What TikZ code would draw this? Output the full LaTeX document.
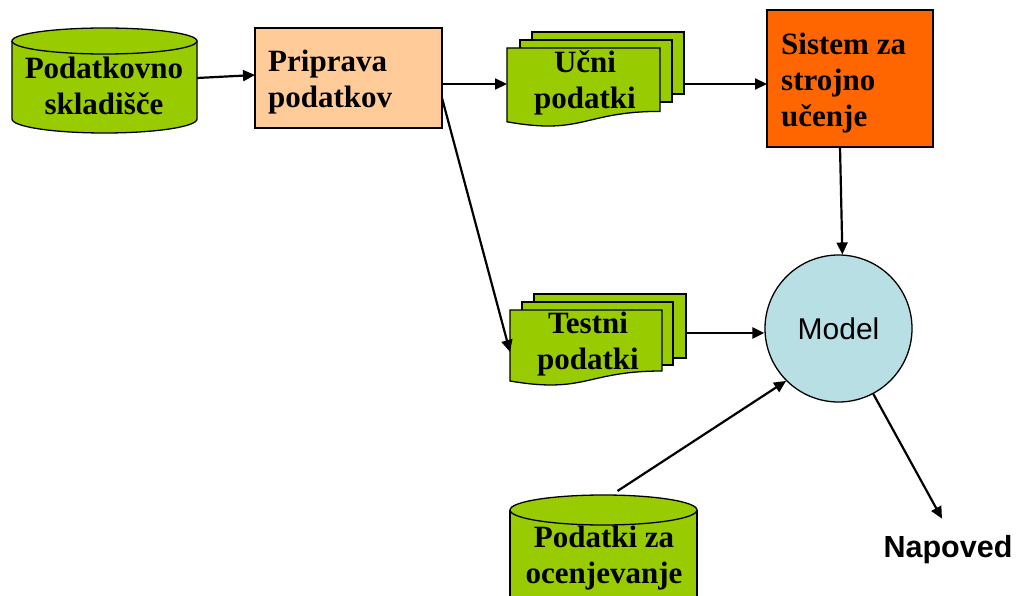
\documentclass[tikz,border=0pt]{standalone}
\usepackage{fontspec}
\setmainfont{Liberation Serif}
\setsansfont{Liberation Sans}
\usetikzlibrary{arrows.meta,calc}
\definecolor{dgreen}{HTML}{99CC00}
\definecolor{peach}{HTML}{FFCC99}
\definecolor{orng}{HTML}{FF6600}
\definecolor{mblue}{HTML}{B8DFE4}
\begin{document}
\begin{tikzpicture}[x=1pt,y=-1pt,
  arr/.style={line width=2.2pt,-{Triangle[length=12pt,width=11pt]}},
  outl/.style={line width=1.3pt},
  shp/.style={draw=none,inner sep=0,outer sep=0},
  rbox/.style={draw,outl,inner sep=0,outer sep=0},
  lbl/.style={font=\bfseries\fontsize{31}{36}\selectfont,inner sep=0,anchor=base,align=center},
  lbll/.style={lbl,align=left,anchor=base west},
  ]
\useasboundingbox (0,0) rectangle (1016,596);
\clip (0,0) rectangle (1016,596);

% cylinder 1
\fill[dgreen] (12,41) -- (12,119) arc[start angle=180,end angle=360,x radius=92.5pt,y radius=14pt] -- (197,41) -- cycle;
\draw[outl] (12,41) -- (12,119) arc[start angle=180,end angle=360,x radius=92.5pt,y radius=14pt] -- (197,41);
\draw[outl,fill=dgreen] (104.5,41) ellipse[x radius=92.5pt,y radius=13pt];
\node[shp,minimum width=185,minimum height=105] (sk) at (104.5,80.5) {};
\node[lbl] (skt) at (104,115) {Podatkovno\\skladišče};

% Priprava
\node[rbox,fill=peach,minimum width=187,minimum height=100] (pp) at (348.5,78) {};
\node[lbll] (ppt) at (268,108) {Priprava\\podatkov};

% Ucni stack
\node[rbox,fill=dgreen,minimum width=152,minimum height=62] (ucb) at (608,63) {};
\node[rbox,fill=dgreen,minimum width=152,minimum height=62] (ucm) at (596,71) {};
\draw[outl,fill=dgreen] (507,48) -- (660,48) -- (660,111.4) .. controls (583.5,111.4) and (583.5,135.5) .. (507,121.8) -- cycle;
\node[shp,minimum width=153,minimum height=79] (uc) at (583.5,87.5) {};
\node[lbl] (uct) at (585,109) {Učni\\podatki};

% Sistem
\node[rbox,fill=orng,minimum width=166,minimum height=137] (ss) at (850,78.5) {};
\node[lbll] (sst) at (781,127) {Sistem za\\strojno\\učenje};

% Testni stack
\node[rbox,fill=dgreen,minimum width=152,minimum height=64] (tsb) at (610,326) {};
\node[rbox,fill=dgreen,minimum width=151,minimum height=63] (tsm) at (597.5,333.5) {};
\draw[outl,fill=dgreen] (510,310) -- (662,310) -- (662,371) .. controls (586,371) and (586,394) .. (510,381) -- cycle;
\node[shp,minimum width=152,minimum height=76] (ts) at (586,348) {};
\node[lbl] (tst) at (588,369) {Testni\\podatki};

% cylinder 2
\fill[dgreen] (510,510) rectangle (697,640);
\draw[outl] (510,510) -- (510,640) (697,510) -- (697,640);
\draw[outl,fill=dgreen] (603.5,510) ellipse[x radius=93.5pt,y radius=15pt];
\node[shp,minimum width=187,minimum height=110] (pz) at (603.5,550) {};
\node[lbl] (pzt) at (604,583) {Podatki za\\ocenjevanje};

% Model
\node[circle,draw,outl,fill=mblue,minimum size=147,inner sep=0,font=\sffamily\fontsize{30}{36}\selectfont] (md) at (838.5,328.5) {Model};

% Napoved
\node[font=\sffamily\bfseries\fontsize{30.5}{36}\selectfont,inner sep=0,anchor=base] (nap) at (948,557) {Napoved};

% connectors
\coordinate (r1) at ([yshift=-6pt]pp.east);
\coordinate (r2) at ([yshift=-7pt]tsb.east);
\draw[arr] ([yshift=2.5pt]sk.east) -- ([yshift=3pt]pp.west);
\draw[arr] (r1) -- (r1 -| uc.west);
\draw[arr] (r1 -| ucb.east) -- (r1 -| ss.west);
\draw[arr] ([yshift=-20pt]pp.east) -- ([yshift=-4pt]ts.west);
\draw[arr] ([xshift=-10pt]ss.south) -- (md.87);
\draw[arr] (r2) -- (r2 -| md.west);
\draw[arr] ([xshift=14pt,yshift=4pt]pz.north) -- (md.225);
\draw[arr] (md.298) -- ([xshift=-6pt,yshift=16pt]nap.north);
\end{tikzpicture}
\end{document}
